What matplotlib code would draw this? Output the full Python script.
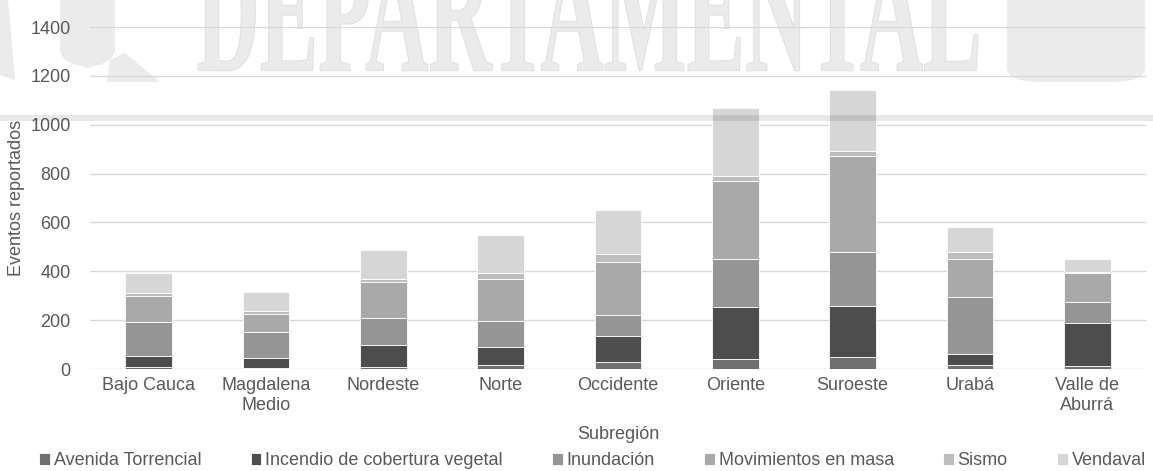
import numpy as np
import matplotlib
matplotlib.use("Agg")
import matplotlib.pyplot as plt
from matplotlib.textpath import TextPath
from matplotlib.font_manager import FontProperties
from matplotlib.patches import PathPatch, Rectangle, FancyBboxPatch, Polygon
from matplotlib.transforms import Affine2D

plt.rcParams['font.family'] = ['Liberation Sans', 'DejaVu Sans']

subregiones = ["Bajo Cauca", "Magdalena\nMedio", "Nordeste", "Norte", "Occidente",
               "Oriente", "Suroeste", "Urabá", "Valle de\nAburrá"]
avenida = [10, 5, 8, 16, 29, 41, 49, 16, 12]
incendio = [45, 40, 90, 75, 107, 211, 208, 45, 177]
inundacion = [137, 105, 111, 105, 87, 198, 222, 233, 87]
movimientos = [105, 77, 147, 174, 215, 319, 394, 156, 119]
sismo = [15, 10, 11, 23, 31, 23, 21, 28, 3]
vendaval = [83, 80, 122, 154, 183, 277, 249, 103, 54]

series = [("Avenida Torrencial", avenida, "#707070"),
          ("Incendio de cobertura vegetal", incendio, "#4d4d4d"),
          ("Inundación", inundacion, "#959595"),
          ("Movimientos en masa", movimientos, "#a9a9a9"),
          ("Sismo", sismo, "#bdbdbd"),
          ("Vendaval", vendaval, "#d6d6d6")]

W, H = 1153, 471
fig = plt.figure(figsize=(W/100, H/100), dpi=100)

def px(x, y):
    # pixel (from top-left) -> figure fraction
    return (x / W, (H - y) / H)

# watermark behind the chart
wm = "#ebebeb"
tp = TextPath((0, 0), "DEPARTAMENTAL", size=1, prop=FontProperties(family='Liberation Serif', weight='bold'))
ext = tp.get_extents()
sx = (780/W) / ext.width
sy = (120/H) / ext.height
tr = Affine2D().translate(-ext.x0, -ext.y0).scale(sx, sy).translate(*px(198, 71)) + fig.transFigure
fig.add_artist(PathPatch(tp, transform=tr, facecolor=wm, edgecolor="#e2e2e2", lw=0.8, zorder=0))
fig.add_artist(FancyBboxPatch(px(1007, 82), 138/W, 100/H, boxstyle="round,pad=0,rounding_size=0.03",
                              transform=fig.transFigure, facecolor=wm, edgecolor="none", zorder=0))
fig.add_artist(FancyBboxPatch(px(60, 68), 55/W, 90/H, boxstyle="round,pad=0,rounding_size=0.04",
                              transform=fig.transFigure, facecolor=wm, edgecolor="none", zorder=0))
fig.add_artist(Polygon([px(107, 82), px(160, 82), px(125, 53), px(110, 60)], closed=True,
                       transform=fig.transFigure, facecolor=wm, edgecolor="none", zorder=0))
fig.add_artist(Polygon([px(0, 0), px(8, 0), px(15, 80), px(0, 75)], closed=True,
                       transform=fig.transFigure, facecolor=wm, edgecolor="none", zorder=0))

ax = fig.add_axes([90/W, 1-369/H, (1146-90)/W, (369-27)/H])
ax.set_facecolor("none")

x = np.arange(len(subregiones))
bottom = np.zeros(len(subregiones))
for name, vals, col in series:
    ax.bar(x, vals, width=0.4, bottom=bottom, color=col, edgecolor="white", linewidth=0.6,
           label=name, zorder=3)
    bottom += np.array(vals)

ax.set_ylim(0, 1400)
ax.set_xlim(-0.5, len(subregiones) - 0.5)
ax.set_yticks(range(0, 1401, 200))
ax.set_xticks(x)
ax.set_xticklabels(subregiones)
ax.grid(axis="y", color="#d9d9d9", linewidth=1, zorder=0)
for s in ax.spines.values():
    s.set_visible(False)
ax.tick_params(length=0, labelsize=13, labelcolor="#595959", pad=6)
ax.tick_params(axis="y", pad=14)
ax.set_xlabel("Subregión", fontsize=13, color="#595959", labelpad=9)
ax.set_ylabel("Eventos reportados", fontsize=13, color="#595959", labelpad=4)

fig.legend(loc="lower left", bbox_to_anchor=(32/W, -0.012, (1153-32)/W, 0.06), mode="expand",
           ncol=6, frameon=False, fontsize=13, handlelength=0.6, handleheight=0.6,
           handletextpad=0.2, borderaxespad=0, labelcolor="#595959")

# translucent band of the watermark on top
fig.add_artist(Rectangle(px(0, 121), 1, 6/H, transform=fig.transFigure,
                         facecolor="black", alpha=0.09, edgecolor="none", zorder=10))

fig.savefig("out.png", dpi=100)
